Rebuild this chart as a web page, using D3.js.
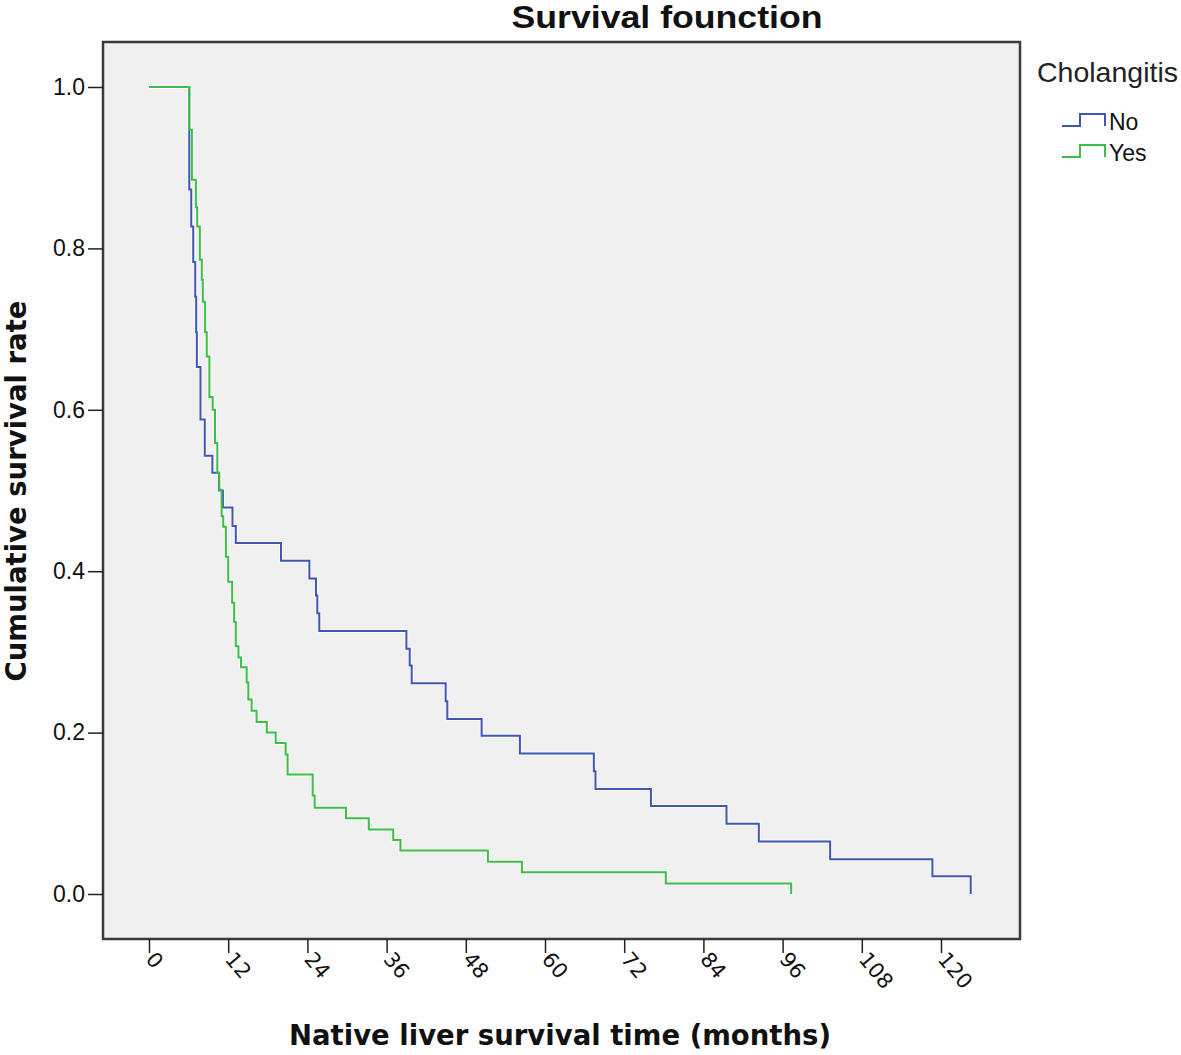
<!DOCTYPE html>
<html>
<head>
<meta charset="utf-8">
<script src="https://cdn.jsdelivr.net/npm/d3@7"></script>
<style>
  html, body { margin: 0; padding: 0; background: #ffffff; }
  svg { display: block; }
</style>
</head>
<body>
<svg id="chart" width="1181" height="1055"></svg>
<script>
// ---- Data ----
const groups = ["No", "Yes"];
const xTicks = [0, 12, 24, 36, 48, 60, 72, 84, 96, 108, 120];
const yTicks = [0.0, 0.2, 0.4, 0.6, 0.8, 1.0];

// Cholangitis = No : time (months) at which survival drops, and survival after the drop
const noTime = [0, 6.1, 6.4, 6.7, 7.0, 7.15, 7.25, 7.8, 8.45, 9.6, 10.6, 11.2, 12.65, 13.15,
  20.0, 24.3, 25.3, 25.5, 25.8, 39.0, 39.5, 39.8, 44.95, 45.2, 50.4, 56.2, 67.4, 67.65,
  76.05, 87.5, 92.4, 103.2, 118.7, 124.5];
const noSurv = [1, 0.873, 0.827, 0.783, 0.740, 0.696, 0.653, 0.588, 0.543, 0.522, 0.500, 0.479, 0.456, 0.435,
  0.413, 0.391, 0.370, 0.348, 0.326, 0.304, 0.283, 0.261, 0.239, 0.217, 0.196, 0.174, 0.152, 0.130,
  0.109, 0.087, 0.065, 0.043, 0.022, 0];

// Cholangitis = Yes
const yesTime = [0, 6.1, 6.5, 7.1, 7.3, 7.7, 8.0, 8.15, 8.5, 8.75, 9.15, 9.65, 10.0, 10.35, 10.65,
  11.0, 11.25, 11.65, 12.0, 12.6, 12.9, 13.15, 13.55, 13.95, 14.8, 15.05, 15.55, 16.3, 17.85,
  19.2, 20.7, 21.0, 24.8, 25.1, 29.85, 33.3, 37.0, 38.1, 51.35, 56.5, 78.3, 97.3];
const yesSurv = [1, 0.947, 0.885, 0.851, 0.827, 0.786, 0.761, 0.734, 0.696, 0.666, 0.616, 0.600, 0.559, 0.522, 0.501,
  0.468, 0.455, 0.418, 0.387, 0.361, 0.337, 0.307, 0.293, 0.281, 0.262, 0.241, 0.227, 0.213, 0.200,
  0.187, 0.173, 0.148, 0.122, 0.107, 0.094, 0.080, 0.067, 0.054, 0.040, 0.027, 0.013, 0];

const colors = { No: "#3f58b6", Yes: "#3cbf46" };

// ---- Layout ----
const svg = d3.select("#chart");
const frame = { left: 103, top: 42, right: 1020, bottom: 939 };

const x = d3.scaleLinear().domain([0, 120]).range([149, 941]);
const y = d3.scaleLinear().domain([0, 1]).range([894, 87]);

// plot background
svg.append("rect")
  .attr("x", frame.left).attr("y", frame.top)
  .attr("width", frame.right - frame.left).attr("height", frame.bottom - frame.top)
  .attr("fill", "#f0f0f0");

// curves
const line = d3.line()
  .x(d => x(d[0])).y(d => y(d[1]))
  .curve(d3.curveStepAfter);

const series = [
  { name: "No", pts: noTime.map((t, i) => [t, noSurv[i]]) },
  { name: "Yes", pts: yesTime.map((t, i) => [t, yesSurv[i]]) }
];

series.forEach(s => {
  svg.append("path")
    .attr("d", line(s.pts))
    .attr("fill", "none")
    .attr("stroke", "#ffffff")
    .attr("stroke-opacity", 0.6)
    .attr("stroke-width", 4);
});
series.forEach(s => {
  svg.append("path")
    .attr("d", line(s.pts))
    .attr("fill", "none")
    .attr("stroke", colors[s.name])
    .attr("stroke-width", 2);
});

// frame
svg.append("rect")
  .attr("x", frame.left).attr("y", frame.top)
  .attr("width", frame.right - frame.left).attr("height", frame.bottom - frame.top)
  .attr("fill", "none")
  .attr("stroke", "#3a3a3a")
  .attr("stroke-width", 2.5);

// Y axis
const yAxis = d3.axisLeft(y).tickValues(yTicks).tickFormat(d3.format(".1f")).tickSize(15).tickPadding(3);
const gy = svg.append("g").attr("transform", `translate(${frame.left},0)`).call(yAxis);
gy.select(".domain").remove();
gy.selectAll(".tick line").attr("stroke", "#222").attr("stroke-width", 1.5);
gy.selectAll(".tick text")
  .attr("font-family", "'Liberation Sans', Arial, sans-serif")
  .attr("font-size", 23)
  .attr("fill", "#111");

// X axis
const xAxis = d3.axisBottom(x).tickValues(xTicks).tickSize(14).tickFormat(d3.format("d"));
const gx = svg.append("g").attr("transform", `translate(0,${frame.bottom})`).call(xAxis);
gx.select(".domain").remove();
gx.selectAll(".tick line").attr("stroke", "#222").attr("stroke-width", 1.5);
gx.selectAll(".tick text")
  .attr("font-family", "'DejaVu Sans', Verdana, sans-serif")
  .attr("font-size", 21)
  .attr("fill", "#111")
  .attr("text-anchor", "start")
  .attr("y", 0)
  .attr("dy", "0.35em")
  .attr("transform", "translate(1,16) rotate(50)");

// Title
svg.append("text")
  .attr("x", 667).attr("y", 28)
  .attr("text-anchor", "middle")
  .attr("font-family", "'Liberation Sans', Arial, sans-serif")
  .attr("font-weight", "bold")
  .attr("font-size", 31)
  .attr("textLength", 311)
  .attr("lengthAdjust", "spacingAndGlyphs")
  .attr("fill", "#111")
  .text("Survival founction");

// Axis titles
svg.append("text")
  .attr("x", 560).attr("y", 1045)
  .attr("text-anchor", "middle")
  .attr("font-family", "'DejaVu Sans', Verdana, sans-serif")
  .attr("font-weight", "bold")
  .attr("font-size", 27.5)
  .attr("fill", "#111")
  .text("Native liver survival time (months)");

svg.append("text")
  .attr("transform", "translate(26,491) rotate(-90)")
  .attr("text-anchor", "middle")
  .attr("font-family", "'DejaVu Sans', Verdana, sans-serif")
  .attr("font-weight", "bold")
  .attr("font-size", 27.5)
  .attr("fill", "#111")
  .text("Cumulative survival rate");

// Legend
svg.append("text")
  .attr("x", 1037).attr("y", 82)
  .attr("font-family", "'Liberation Sans', Arial, sans-serif")
  .attr("font-size", 28.5)
  .attr("fill", "#222")
  .text("Cholangitis");

groups.forEach((g, i) => {
  const oy = 126 + i * 31;
  svg.append("path")
    .attr("d", `M1062,${oy} H1080 V${oy - 12} H1105 V${oy}`)
    .attr("fill", "none")
    .attr("stroke", colors[g])
    .attr("stroke-width", 2);
  svg.append("text")
    .attr("x", 1109).attr("y", oy + 4)
    .attr("font-family", "'Liberation Sans', Arial, sans-serif")
    .attr("font-size", 23)
    .attr("fill", "#111")
    .text(g);
});
</script>
</body>
</html>
